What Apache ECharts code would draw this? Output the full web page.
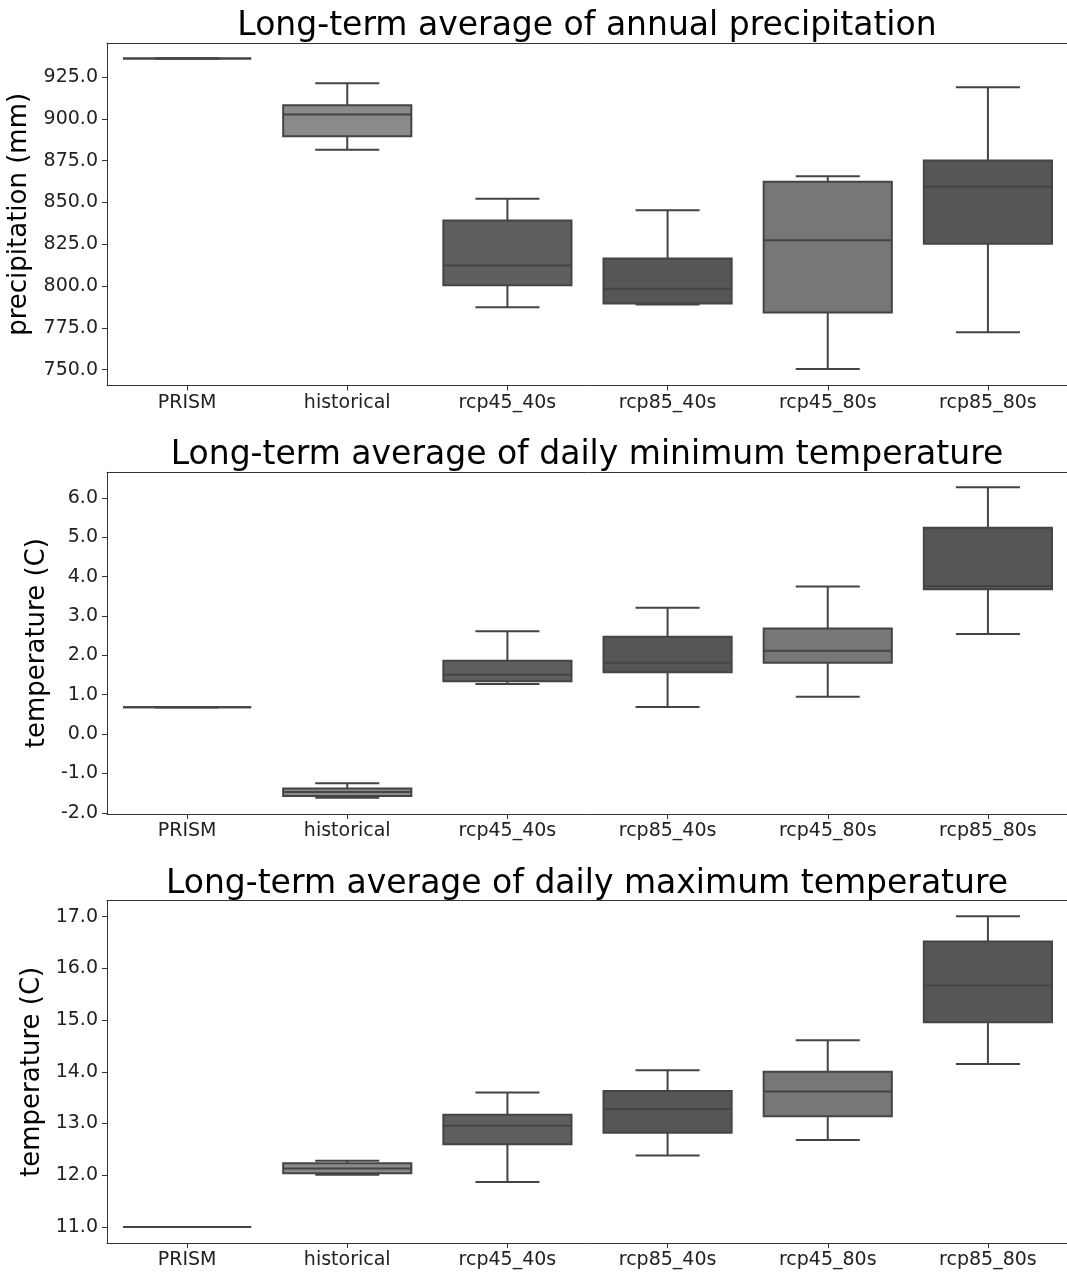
<!DOCTYPE html>
<html><head><meta charset="utf-8">
<script src="https://cdn.jsdelivr.net/npm/echarts@6/dist/echarts.min.js"></script>
<style>html,body{margin:0;padding:0;background:#fff}#c{width:1067px;height:1277px}</style>
</head><body><div id="c"></div>
<script>
const categories = ['PRISM','historical','rcp45_40s','rcp85_40s','rcp45_80s','rcp85_80s'];
// each box: [low whisker, Q1, median, Q3, high whisker]
const precipBoxes = [
  [936.0, 936.0, 936.0, 936.0, 936.0],
  [881.4, 889.6, 902.5, 908.1, 921.2],
  [787.3, 800.5, 812.2, 839.1, 852.2],
  [788.9, 789.5, 798.3, 816.4, 845.3],
  [750.4, 784.1, 827.4, 862.4, 865.6],
  [772.4, 825.3, 859.4, 875.0, 918.9]
];
const tminBoxes = [
  [0.68, 0.68, 0.68, 0.68, 0.68],
  [-1.62, -1.57, -1.47, -1.38, -1.25],
  [1.27, 1.34, 1.51, 1.86, 2.61],
  [0.69, 1.57, 1.81, 2.47, 3.21],
  [0.95, 1.81, 2.12, 2.68, 3.75],
  [2.54, 3.68, 3.76, 5.24, 6.27]
];
const tmaxBoxes = [
  [11.0, 11.0, 11.0, 11.0, 11.0],
  [12.01, 12.04, 12.13, 12.23, 12.28],
  [11.87, 12.60, 12.96, 13.17, 13.60],
  [12.38, 12.82, 13.28, 13.63, 14.03],
  [12.68, 13.14, 13.62, 14.00, 14.61],
  [14.15, 14.96, 15.67, 16.52, 17.01]
];
const precipTicks = [750, 775, 800, 825, 850, 875, 900, 925];
const tminTicks = [-2, -1, 0, 1, 2, 3, 4, 5, 6];
const tmaxTicks = [11, 12, 13, 14, 15, 16, 17];
const titles = ['Long-term average of annual precipitation',
                'Long-term average of daily minimum temperature',
                'Long-term average of daily maximum temperature'];
const yNames = ['precipitation (mm)', 'temperature (C)', 'temperature (C)'];

const boxColors = ['#575757', '#8a8a8a', '#5f5f5f', '#565656', '#777777', '#565656'];
const EDGE = '#444444';
const FONT = 'DejaVu Sans';

const panels = [
  {boxes: precipBoxes, ticks: precipTicks, min: 740.4, max: 945.3, top: 43, height: 342.7, titleTop: 10, nameGap: 74},
  {boxes: tminBoxes, ticks: tminTicks, min: -2.03, max: 6.65, top: 472.3, height: 341.7, titleTop: 439, nameGap: 57},
  {boxes: tmaxBoxes, ticks: tmaxTicks, min: 10.69, max: 17.31, top: 900.7, height: 342.3, titleTop: 868, nameGap: 62}
];

function renderBox(params, api) {
  const i = api.value(0);
  const lo = api.coord([i, api.value(1)]);
  const q1 = api.coord([i, api.value(2)]);
  const md = api.coord([i, api.value(3)]);
  const q3 = api.coord([i, api.value(4)]);
  const hi = api.coord([i, api.value(5)]);
  const band = api.size([1, 0])[0];
  const bw = band * 0.8, cw = band * 0.4;
  const x = lo[0];
  const ls = {stroke: EDGE, lineWidth: 2, fill: null};
  return {type: 'group', children: [
    {type: 'line', shape: {x1: x, y1: hi[1], x2: x, y2: q3[1]}, style: ls},
    {type: 'line', shape: {x1: x, y1: q1[1], x2: x, y2: lo[1]}, style: ls},
    {type: 'line', shape: {x1: x - cw / 2, y1: hi[1], x2: x + cw / 2, y2: hi[1]}, style: ls},
    {type: 'line', shape: {x1: x - cw / 2, y1: lo[1], x2: x + cw / 2, y2: lo[1]}, style: ls},
    {type: 'rect', shape: {x: x - bw / 2, y: q3[1], width: bw, height: q1[1] - q3[1]},
      style: {fill: boxColors[i], stroke: EDGE, lineWidth: 2}},
    {type: 'line', shape: {x1: x - bw / 2, y1: md[1], x2: x + bw / 2, y2: md[1]}, style: ls}
  ]};
}

const bottomAxes = panels.map((p, k) => ({
  type: 'category', gridIndex: k, position: 'bottom', data: categories, boundaryGap: true,
  axisLine: {show: true, onZero: false, lineStyle: {color: '#333', width: 1}},
  axisTick: {show: true, alignWithLabel: true, length: 5, lineStyle: {color: '#333'}},
  axisLabel: {fontFamily: FONT, fontSize: 19, color: '#222', margin: 8, interval: 0},
  splitLine: {show: false}
}));
const topAxes = panels.map((p, k) => ({
  type: 'category', gridIndex: k, position: 'top', data: categories, boundaryGap: true,
  axisLine: {show: true, onZero: false, lineStyle: {color: '#333', width: 1}},
  axisTick: {show: false}, axisLabel: {show: false}, splitLine: {show: false}
}));

const option = {
  backgroundColor: '#fff',
  animation: false,
  textStyle: {fontFamily: FONT},
  title: panels.map((p, k) => ({
    text: titles[k], left: 587, top: p.titleTop, textAlign: 'center', padding: 0,
    textStyle: {fontFamily: FONT, fontSize: 33, fontWeight: 'normal', color: '#000'}
  })),
  grid: panels.map(p => ({
    left: 107, top: p.top, width: 961, height: p.height,
    outerBoundsMode: 'none', containLabel: false, show: false
  })),
  xAxis: bottomAxes.concat(topAxes),
  yAxis: panels.map((p, k) => ({
    type: 'value', gridIndex: k, min: p.min, max: p.max,
    name: yNames[k], nameLocation: 'middle', nameGap: p.nameGap, nameRotate: 90,
    nameTextStyle: {fontFamily: FONT, fontSize: 26, color: '#000'},
    axisLine: {show: true, onZero: false, lineStyle: {color: '#333', width: 1}},
    axisTick: {show: true, length: 5, customValues: p.ticks, lineStyle: {color: '#333'}},
    axisLabel: {fontFamily: FONT, fontSize: 19, color: '#222', margin: 9,
      customValues: p.ticks, formatter: v => Number(v).toFixed(1)},
    splitLine: {show: false}
  })),
  series: panels.map((p, k) => ({
    type: 'custom', xAxisIndex: k, yAxisIndex: k,
    renderItem: renderBox,
    encode: {x: 0, y: [1, 2, 3, 4, 5]},
    data: p.boxes.map((b, i) => [i].concat(b))
  }))
};

const chart = echarts.init(document.getElementById('c'), null, {renderer: 'canvas'});
chart.setOption(option);
</script>
</body></html>
